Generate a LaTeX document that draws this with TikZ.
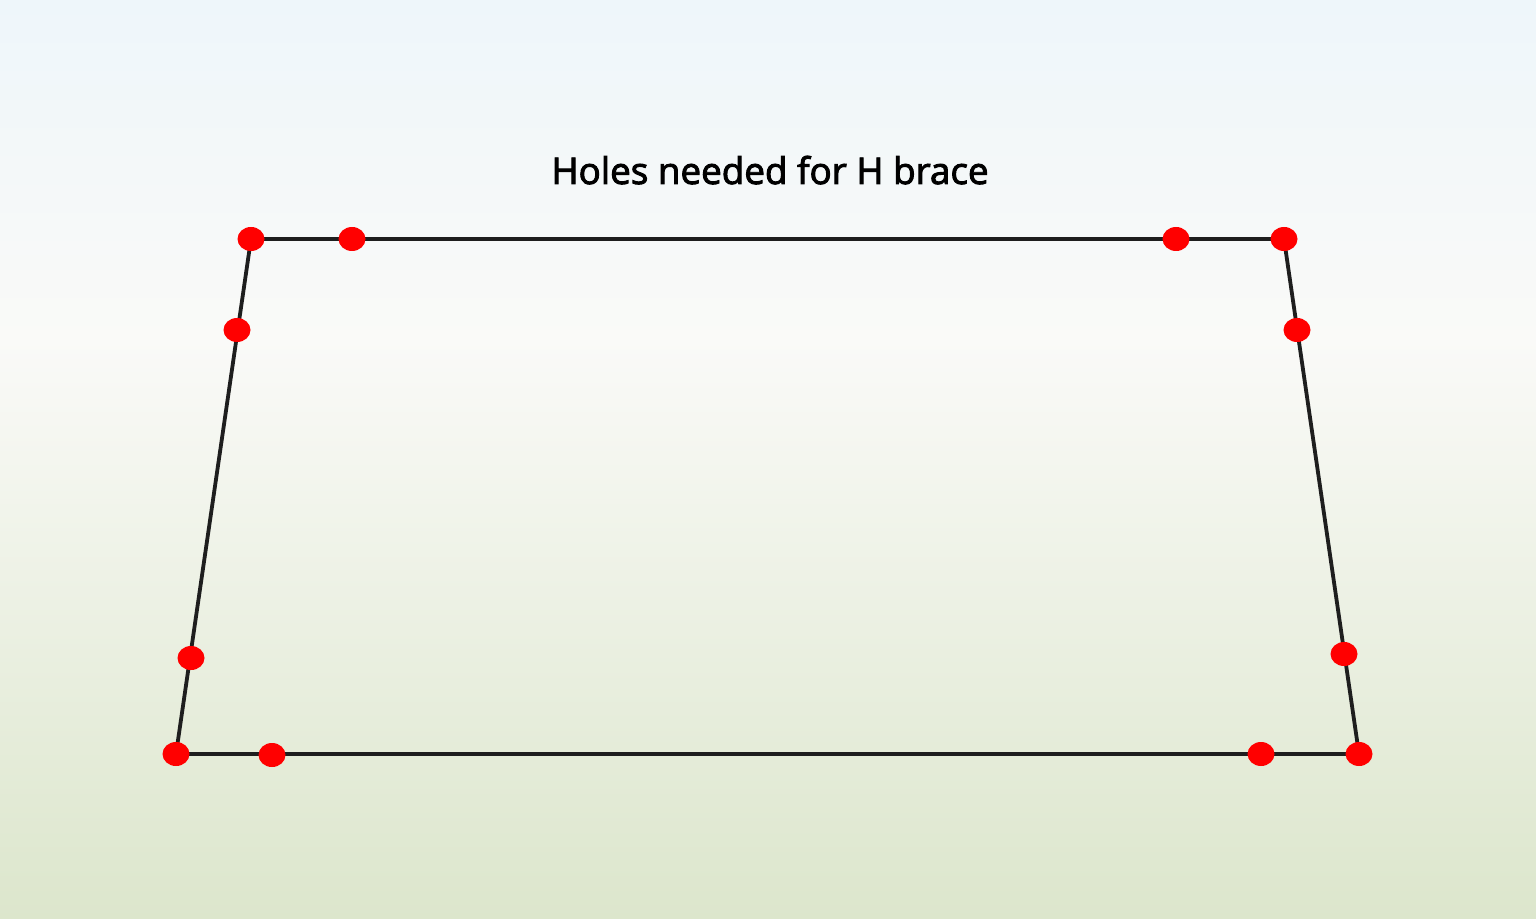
\documentclass[tikz,border=0pt]{standalone}
\usepackage{fontspec}
\setmainfont{Open Sans}
\newfontfamily\titlefont[FakeBold=2.6]{Open Sans}
\usetikzlibrary{shapes.geometric}
\definecolor{bgtop}{HTML}{EEF6FA}
\definecolor{bgmid}{HTML}{FAFAF8}
\definecolor{bgbot}{HTML}{DCE6CC}
\definecolor{edge}{HTML}{1E1E1E}
\tikzset{
  hole/.style={ellipse, fill=red, draw=none, inner sep=0pt, minimum width=13.5pt, minimum height=12pt},
  frame/.style={draw=edge, line width=1.9pt, line join=miter}
}
\begin{document}
\begin{tikzpicture}[x=0.5pt,y=-0.5pt]
\useasboundingbox (0,0) rectangle (1536,919);
\shade[top color=bgtop, bottom color=bgmid] (0,0) rectangle (1536,340);
\shade[top color=bgmid, bottom color=bgbot] (0,339) rectangle (1536,919);
\node[anchor=base, font=\titlefont\fontsize{18.4}{22}\selectfont, text=black] (title) at (770,184) {Holes needed for H brace};
\coordinate (tl) at (251,239);
\coordinate (tr) at (1284,239);
\coordinate (br) at (1359,754);
\coordinate (bl) at (176,754);
\draw[frame] (tl) -- (tr) -- (br) -- (bl) -- cycle;
\node[hole] (h1) at (tl) {};
\node[hole] (h2) at (352,239) {};
\node[hole] (h3) at (1176,239) {};
\node[hole] (h4) at (tr) {};
\node[hole] (h5) at (237,330) {};
\node[hole] (h6) at (1297,330) {};
\node[hole] (h7) at (191,658) {};
\node[hole] (h8) at (1344,654) {};
\node[hole] (h9) at (bl) {};
\node[hole] (h10) at (272,755) {};
\node[hole] (h11) at (1261,754) {};
\node[hole] (h12) at (br) {};
\end{tikzpicture}
\end{document}
